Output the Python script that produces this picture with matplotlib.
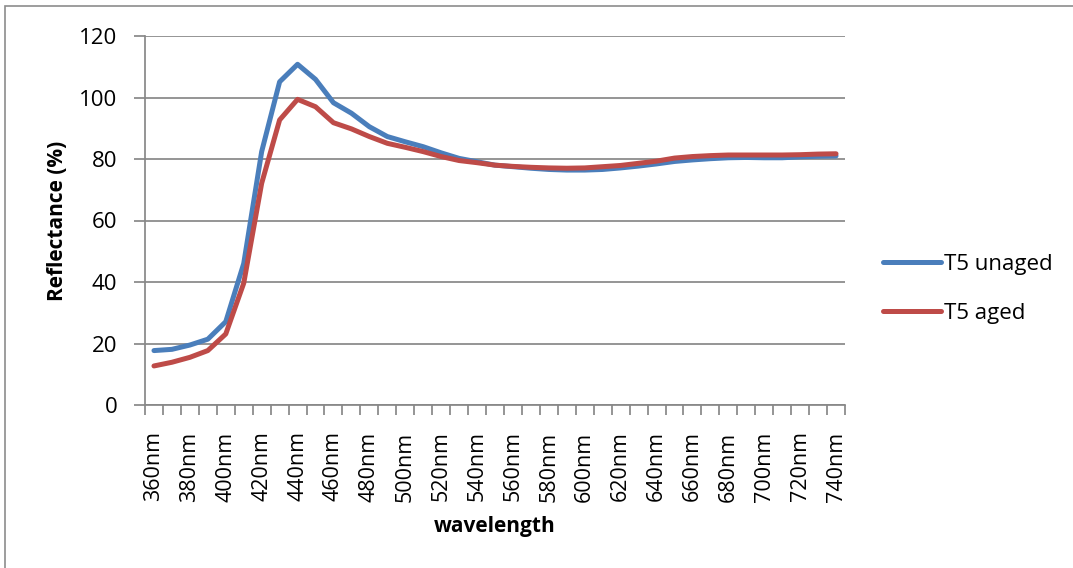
import matplotlib
matplotlib.use("Agg")
import matplotlib.pyplot as plt
from matplotlib.patches import Rectangle

# Wavelength categories (nm)
wavelengths = list(range(360, 741, 10))
tick_labels = [f"{w}nm" for w in wavelengths]

# Reflectance (%) per wavelength
t5_unaged = [17.7, 18.1, 19.5, 21.4, 27.1, 46.0, 82.4, 105.1, 110.8, 105.9,
             98.3, 94.9, 90.5, 87.3, 85.6, 84.0, 82.0, 80.2, 79.1, 78.0,
             77.5, 77.0, 76.6, 76.4, 76.4, 76.6, 77.1, 77.7, 78.4, 79.2,
             79.7, 80.1, 80.4, 80.5, 80.4, 80.4, 80.7, 80.9, 81.0]
t5_aged = [12.7, 13.9, 15.5, 17.7, 23.1, 39.6, 72.1, 92.7, 99.4, 97.0,
           91.8, 89.8, 87.3, 85.1, 83.8, 82.4, 80.8, 79.5, 78.8, 78.0,
           77.6, 77.3, 77.1, 77.0, 77.1, 77.5, 77.9, 78.6, 79.3, 80.3,
           80.8, 81.1, 81.3, 81.3, 81.3, 81.3, 81.4, 81.6, 81.7]

plt.rcParams['font.family'] = ['Open Sans', 'DejaVu Sans']

W, H = 1073, 568
fig = plt.figure(figsize=(W / 100, H / 100), dpi=100)
fig.patch.set_facecolor('white')

# chart-area frame (left and top edges inside the image)
fig.add_artist(Rectangle((5 / W, -0.1), 1.5, 1 - 6 / H + 0.1,
                         transform=fig.transFigure, fill=False,
                         edgecolor='#8c8c8c', linewidth=1.2))

ax = fig.add_axes([145 / W, (H - 405) / H, 700 / W, 369 / H])

grid_color = '#888888'
x = list(range(len(wavelengths)))
ax.plot(x, t5_unaged, color='#4A7EBB', linewidth=3.6, label='T5 unaged',
        solid_joinstyle='round', solid_capstyle='round', zorder=3)
ax.plot(x, t5_aged, color='#BE4B48', linewidth=3.6, label='T5 aged',
        solid_joinstyle='round', solid_capstyle='round', zorder=4)

ax.set_xlim(-0.5, len(wavelengths) - 0.5)
ax.set_ylim(0, 120)
ax.set_yticks(range(0, 121, 20))
ax.yaxis.grid(True, color=grid_color, linewidth=1.25)
ax.set_axisbelow(True)

# category boundary ticks (major) and labels on every other category (minor)
ax.set_xticks([i - 0.5 for i in range(len(wavelengths) + 1)])
ax.set_xticklabels([])
ax.set_xticks(x[::2], minor=True)
ax.set_xticklabels(tick_labels[::2], minor=True, rotation=90, fontsize=15.5)
ax.tick_params(axis='x', which='major', length=7, width=1.25, color=grid_color)
ax.tick_params(axis='x', which='minor', length=0, pad=19)
ax.tick_params(axis='y', length=8, width=1.25, color=grid_color, labelsize=16, pad=12)

for s in ('top', 'right'):
    ax.spines[s].set_visible(False)
for s in ('left', 'bottom'):
    ax.spines[s].set_color(grid_color)
    ax.spines[s].set_linewidth(1.25)

ax.set_xlabel('wavelength', fontsize=15, fontweight='bold', labelpad=10)
ax.set_ylabel('Reflectance (%)', fontsize=15, fontweight='bold', labelpad=8)

leg = ax.legend(loc='center left', bbox_to_anchor=(1.054, 0.314),
                bbox_transform=ax.transAxes, frameon=False,
                fontsize=16, handlelength=2.6, handletextpad=0.15,
                labelspacing=1.25, borderpad=0, borderaxespad=0)

fig.savefig('out.png', dpi=100, facecolor='white')
